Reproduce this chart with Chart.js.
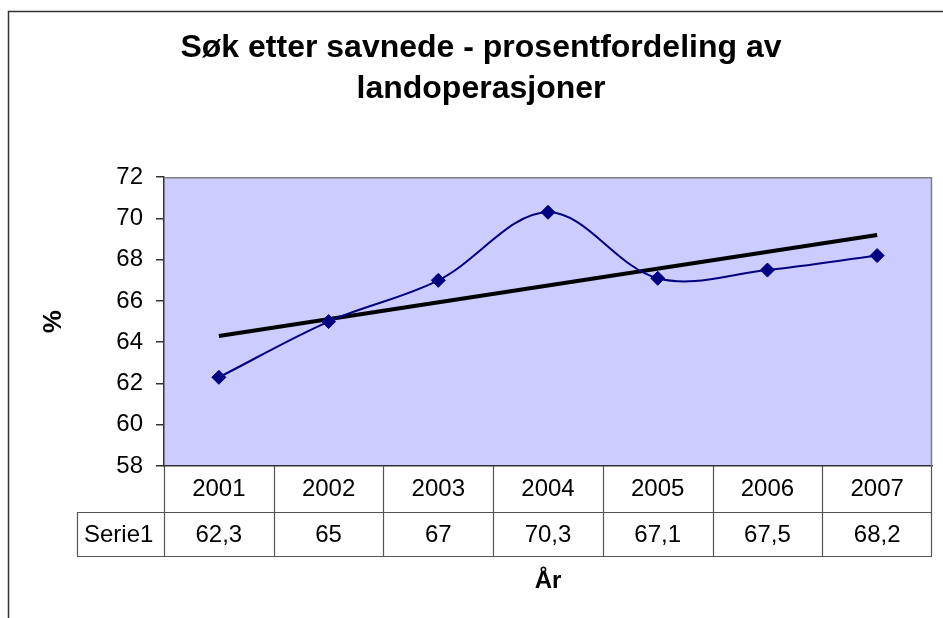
<!DOCTYPE html>
<html>
<head>
<meta charset="utf-8">
<script src="https://cdn.jsdelivr.net/npm/chart.js@4/dist/chart.umd.min.js"></script>
<style>
  html, body { margin: 0; padding: 0; background: #ffffff; }
  #wrap { width: 943px; height: 618px; }
</style>
</head>
<body>
<div id="wrap"><canvas id="c" width="943" height="618"></canvas></div>
<script>
const titleLines = ['Søk etter savnede - prosentfordeling av', 'landoperasjoner'];
const categories = ['2001', '2002', '2003', '2004', '2005', '2006', '2007'];
const seriesName = 'Serie1';
const seriesValues = [62.3, 65, 67, 70.3, 67.1, 67.5, 68.2];
const tableLabels = ['62,3', '65', '67', '70,3', '67,1', '67,5', '68,2'];
const trendValues = [64.3, null, null, null, null, null, 69.2];
const yTicks = [58, 60, 62, 64, 66, 68, 70, 72];
const yTitle = '%';
const xTitle = 'År';

const FONT = '"Liberation Sans", Arial, sans-serif';

const framePlugin = {
  id: 'frame',
  beforeDraw(chart) {
    const ctx = chart.ctx;
    const a = chart.chartArea;
    ctx.save();
    ctx.fillStyle = '#ffffff';
    ctx.fillRect(0, 0, chart.width, chart.height);
    ctx.strokeStyle = '#333333';
    ctx.lineWidth = 1.5;
    ctx.beginPath();
    ctx.moveTo(chart.width, 11.5);
    ctx.lineTo(8.5, 11.5);
    ctx.lineTo(8.5, chart.height);
    ctx.stroke();
    ctx.fillStyle = '#CCCCFF';
    ctx.fillRect(a.left, a.top, a.right - a.left, a.bottom - a.top);
    ctx.restore();
  },
  afterDraw(chart) {
    const ctx = chart.ctx;
    const a = chart.chartArea;
    const xs = chart.scales.x;
    ctx.save();
    ctx.strokeStyle = '#808080';
    ctx.lineWidth = 1.5;
    ctx.beginPath();
    ctx.moveTo(a.left, a.top + 0.5);
    ctx.lineTo(a.right - 0.5, a.top + 0.5);
    ctx.lineTo(a.right - 0.5, a.bottom);
    ctx.stroke();

    const step = xs.getPixelForValue(1) - xs.getPixelForValue(0);
    const half = step / 2;
    const r0 = a.bottom, r1 = a.bottom + 46, r2 = a.bottom + 90;
    const labelLeft = 77;
    ctx.strokeStyle = '#555555';
    ctx.lineWidth = 1.2;
    ctx.beginPath();
    ctx.moveTo(labelLeft, r1 + 0.5); ctx.lineTo(a.right, r1 + 0.5);
    ctx.moveTo(labelLeft, r2 + 0.5); ctx.lineTo(a.right, r2 + 0.5);
    ctx.moveTo(labelLeft + 0.5, r1); ctx.lineTo(labelLeft + 0.5, r2);
    for (let i = 0; i < categories.length; i++) {
      const xl = Math.round(xs.getPixelForValue(i) - half) + 0.5;
      ctx.moveTo(xl, r0); ctx.lineTo(xl, r2);
    }
    const xr = Math.round(xs.getPixelForValue(categories.length - 1) + half) - 0.5;
    ctx.moveTo(xr, r0); ctx.lineTo(xr, r2);
    ctx.stroke();

    ctx.fillStyle = '#000000';
    ctx.font = '24px ' + FONT;
    ctx.textBaseline = 'middle';
    ctx.textAlign = 'center';
    for (let i = 0; i < categories.length; i++) {
      const cx = xs.getPixelForValue(i);
      ctx.fillText(categories[i], cx, (r0 + r1) / 2);
      ctx.fillText(tableLabels[i], cx, (r1 + r2) / 2 + 1);
    }
    ctx.textAlign = 'left';
    ctx.fillText(seriesName, labelLeft + 7, (r1 + r2) / 2 + 1);

    ctx.font = 'bold 24px ' + FONT;
    ctx.textAlign = 'center';
    ctx.fillText(xTitle, (a.left + a.right) / 2, 581);
    ctx.restore();
  }
};

new Chart(document.getElementById('c'), {
  type: 'line',
  data: {
    labels: categories,
    datasets: [
      {
        label: seriesName,
        data: seriesValues,
        borderColor: '#000080',
        backgroundColor: '#000080',
        borderWidth: 2,
        tension: 0.35,
        pointStyle: 'rectRot',
        pointRadius: 7,
        pointBorderWidth: 1,
        pointBackgroundColor: '#000080',
        pointBorderColor: '#000080',
        fill: false
      },
      {
        label: 'Trend',
        data: trendValues,
        borderColor: '#000000',
        borderWidth: 4,
        tension: 0,
        spanGaps: true,
        pointRadius: 0,
        fill: false
      }
    ]
  },
  options: {
    responsive: false,
    animation: false,
    devicePixelRatio: 1,
    layout: { padding: { left: 30, right: 11, top: 0, bottom: 0 } },
    plugins: {
      legend: { display: false },
      tooltip: { enabled: false },
      title: {
        display: true,
        text: titleLines,
        color: '#000000',
        font: { family: FONT, size: 32, weight: 'bold', lineHeight: 1.3 },
        padding: { top: 27, bottom: 67 }
      }
    },
    scales: {
      x: {
        type: 'category',
        offset: true,
        grid: { display: false },
        border: { display: true, color: '#333333', width: 1.5 },
        ticks: { display: false },
        afterFit(scale) { scale.height = 152; }
      },
      y: {
        min: 58,
        max: 72,
        afterBuildTicks(scale) { scale.ticks = yTicks.map(v => ({ value: v })); },
        grid: { drawOnChartArea: false, drawTicks: true, tickLength: 8, color: '#333333', lineWidth: 1.5 },
        border: { display: true, color: '#333333', width: 1.5 },
        ticks: {
          color: '#000000',
          padding: 13,
          font: { family: FONT, size: 24 }
        },
        title: {
          display: true,
          text: yTitle,
          color: '#000000',
          font: { family: FONT, size: 26, weight: 'bold' },
          padding: { top: 8, bottom: 0 }
        },
        afterFit(scale) { scale.width = 134; }
      }
    }
  },
  plugins: [framePlugin]
});
</script>
</body>
</html>
